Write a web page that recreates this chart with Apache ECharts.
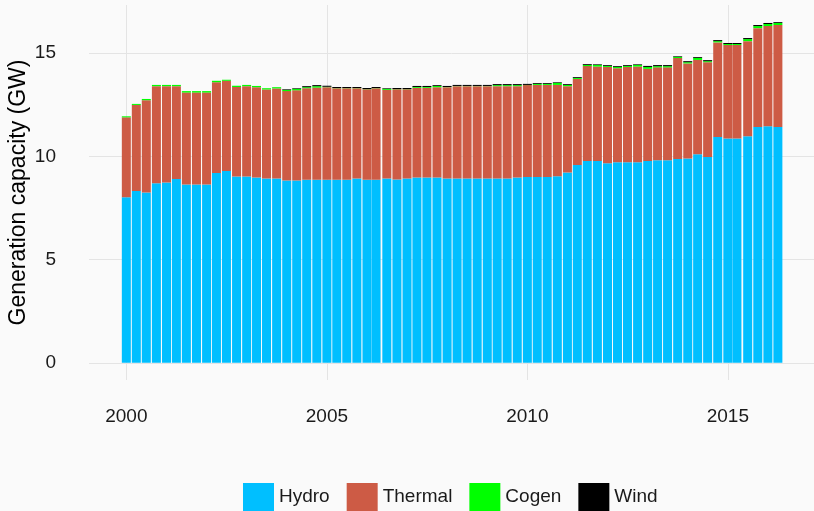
<!DOCTYPE html>
<html lang="en">
<head>
<meta charset="UTF-8">
<title>Generation capacity</title>
<script src="https://cdn.jsdelivr.net/npm/echarts@6/dist/echarts.min.js"></script>
<style>
  html, body { margin: 0; padding: 0; background: #fafafa; }
</style>
</head>
<body>
<div id="main" style="width: 814px;height:511px;"></div>
<script>
  // date of each bar (quarterly, two of them irregular)
  const dates = [
    '2000-01-01', '2000-04-01', '2000-07-01', '2000-10-01', '2001-01-01', '2001-04-01', '2001-07-01', '2001-10-01',
    '2002-01-01', '2002-04-01', '2002-07-01', '2002-10-01', '2003-01-01', '2003-04-01', '2003-07-01', '2003-10-01',
    '2004-01-01', '2004-04-01', '2004-07-01', '2004-10-01', '2005-01-01', '2005-04-01', '2005-07-01', '2005-10-01',
    '2006-01-01', '2006-03-25', '2006-07-01', '2006-10-01', '2007-01-01', '2007-04-01', '2007-07-01', '2007-10-01',
    '2008-01-01', '2008-04-01', '2008-07-01', '2008-10-01', '2009-01-01', '2009-04-01', '2009-07-01', '2009-10-01',
    '2010-01-01', '2010-04-01', '2010-07-01', '2010-10-01', '2011-01-01', '2011-04-01', '2011-07-01', '2011-10-01',
    '2012-01-01', '2012-04-01', '2012-07-01', '2012-10-01', '2013-01-01', '2013-04-01', '2013-07-01', '2013-10-01',
    '2014-01-01', '2014-04-01', '2014-07-01', '2014-10-01', '2015-01-01', '2015-03-25', '2015-07-01', '2015-10-01',
    '2016-01-01', '2016-04-01'
  ];
  const hydro = [
    8.02, 8.32, 8.25, 8.70, 8.74, 8.90, 8.64, 8.64, 8.64, 9.19, 9.29, 9.03,
    9.03, 8.98, 8.93, 8.93, 8.83, 8.83, 8.87, 8.87, 8.87, 8.87, 8.87, 8.93,
    8.87, 8.87, 8.93, 8.88, 8.93, 8.98, 8.98, 8.98, 8.93, 8.93, 8.93, 8.93,
    8.93, 8.93, 8.93, 8.98, 9.00, 9.00, 9.00, 9.04, 9.22, 9.58, 9.77, 9.77,
    9.67, 9.71, 9.71, 9.71, 9.77, 9.81, 9.81, 9.87, 9.90, 10.10, 9.97, 10.94,
    10.87, 10.87, 10.97, 11.42, 11.46, 11.42
  ];
  const thermal = [
    3.87, 4.17, 4.47, 4.70, 4.66, 4.50, 4.45, 4.45, 4.45, 4.40, 4.37, 4.33,
    4.37, 4.37, 4.31, 4.36, 4.33, 4.37, 4.43, 4.46, 4.48, 4.43, 4.43, 4.37,
    4.38, 4.43, 4.29, 4.37, 4.32, 4.34, 4.34, 4.37, 4.42, 4.47, 4.47, 4.47,
    4.47, 4.47, 4.47, 4.42, 4.45, 4.46, 4.46, 4.42, 4.18, 4.17, 4.60, 4.58,
    4.66, 4.56, 4.62, 4.64, 4.47, 4.50, 4.50, 4.89, 4.60, 4.57, 4.59, 4.58,
    4.52, 4.52, 4.61, 4.79, 4.85, 4.94
  ];
  const cogen = [
    0.05, 0.05, 0.06, 0.06, 0.06, 0.06, 0.07, 0.07, 0.07, 0.07, 0.05, 0.06,
    0.06, 0.06, 0.06, 0.06, 0.06, 0.07, 0.05, 0.07, 0.02, 0.01, 0.01, 0.01,
    0.01, 0.01, 0.05, 0.01, 0.01, 0.04, 0.04, 0.06, 0.01, 0.01, 0.01, 0.01,
    0.01, 0.05, 0.05, 0.05, 0.01, 0.05, 0.05, 0.10, 0.06, 0.05, 0.06, 0.08,
    0.05, 0.06, 0.05, 0.08, 0.09, 0.06, 0.06, 0.06, 0.06, 0.10, 0.05, 0.06,
    0.05, 0.05, 0.10, 0.10, 0.10, 0.10
  ];
  const wind = [
    0, 0, 0, 0, 0, 0, 0, 0, 0, 0, 0, 0,
    0, 0, 0, 0, 0.03, 0.03, 0.05, 0.05, 0.05, 0.05, 0.05, 0.05,
    0.05, 0.05, 0.03, 0.05, 0.05, 0.05, 0.05, 0.04, 0.05, 0.05, 0.05, 0.05,
    0.05, 0.05, 0.05, 0.05, 0.05, 0.04, 0.04, 0.03, 0.04, 0.04, 0.04, 0.03,
    0.04, 0.04, 0.04, 0.03, 0.05, 0.05, 0.05, 0.03, 0.05, 0.04, 0.05, 0.05,
    0.05, 0.05, 0.05, 0.05, 0.05, 0.04
  ];
  const xTicks = ['2000-01-01', '2005-01-01', '2010-01-01', '2015-01-01'];
  const yTicks = [0, 5, 10, 15];

  const font = "'Liberation Sans', Arial, sans-serif";
  const gridColor = '#e4e4e4';
  const plotWidth = 725;
  const barW = 9;

  const toTime = s => Date.parse(s + 'T00:00:00Z');
  const xMin = toTime('1999-01-26');
  const xMax = toTime('2017-02-24');
  // echarts widens a bar axis by half a bar on each side, so pull the
  // time axis in by that much to keep it in step with the label axis
  const pad = (xMax - xMin) * (barW / 2) / plotWidth;

  function pairs(vals) {
    return vals.map((v, i) => [toTime(dates[i]), v]);
  }

  function barSeries(name, color, vals) {
    return {
      name: name,
      type: 'bar',
      stack: 'cap',
      xAxisIndex: 0,
      barWidth: barW,
      itemStyle: { color: color },
      data: pairs(vals)
    };
  }

  const myChart = echarts.init(document.getElementById('main'));
  const option = {
    backgroundColor: '#fafafa',
    animation: false,
    textStyle: { fontFamily: font },
    grid: { left: 89, right: 0, top: 5, bottom: 131, outerBoundsMode: 'none', containLabel: false },
    legend: {
      left: 243,
      top: 483,
      padding: 0,
      itemGap: 17,
      itemWidth: 31,
      itemHeight: 28,
      icon: 'rect',
      textStyle: { fontSize: 19, color: '#1a1a1a', fontFamily: font },
      data: ['Hydro', 'Thermal', 'Cogen', 'Wind']
    },
    xAxis: [
      {
        // bars sit on this one, hidden
        type: 'time',
        min: xMin + pad,
        max: xMax - pad,
        show: false
      },
      {
        // year labels and grid lines
        type: 'value',
        position: 'bottom',
        min: xMin,
        max: xMax,
        axisLine: { show: false },
        axisTick: { show: false, customValues: xTicks.map(toTime) },
        axisLabel: {
          customValues: xTicks.map(toTime),
          margin: 27,
          fontSize: 19,
          color: '#1a1a1a',
          formatter: v => String(new Date(v).getUTCFullYear())
        },
        splitLine: { show: true, lineStyle: { color: gridColor, width: 1 } }
      }
    ],
    yAxis: {
      type: 'value',
      min: -0.83,
      max: 17.33,
      name: 'Generation capacity (GW)',
      nameLocation: 'middle',
      nameRotate: 90,
      nameGap: 59,
      nameMoveOverlap: false,
      nameTextStyle: { fontSize: 23, color: '#000', fontFamily: font },
      axisLine: { show: false },
      axisTick: { show: false, customValues: yTicks },
      axisLabel: {
        customValues: yTicks,
        margin: 33,
        fontSize: 19,
        color: '#1a1a1a'
      },
      splitLine: { show: true, lineStyle: { color: gridColor, width: 1 } }
    },
    series: [
      barSeries('Hydro', '#00bfff', hydro),
      barSeries('Thermal', '#cd5b45', thermal),
      barSeries('Cogen', '#00ff00', cogen),
      barSeries('Wind', '#000000', wind)
    ]
  };
  myChart.setOption(option);
</script>
</body>
</html>
